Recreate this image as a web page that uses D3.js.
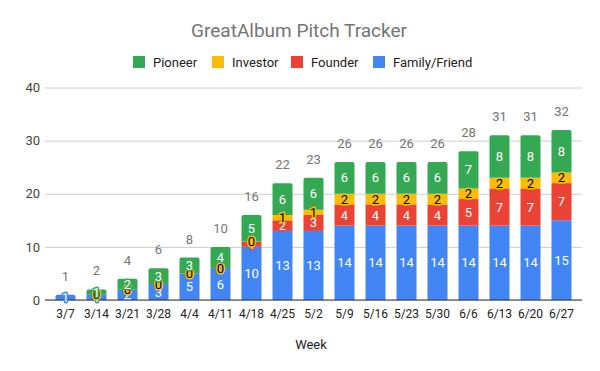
<!DOCTYPE html>
<html>
<head>
<meta charset="utf-8">
<script src="https://cdn.jsdelivr.net/npm/d3@7"></script>
<style>
  body { margin: 0; background: #fff; }
  svg { display: block; font-family: Roboto, Arial, sans-serif; }
</style>
</head>
<body>
<svg id="chart" width="600" height="371"></svg>
<script>
const weeks = ["3/7","3/14","3/21","3/28","4/4","4/11","4/18","4/25","5/2","5/9","5/16","5/23","5/30","6/6","6/13","6/20","6/27"];
const familyFriend = [1,1,2,3,5,6,10,13,13,14,14,14,14,14,14,14,15];
const founder      = [null,null,null,null,null,null,1,2,3,4,4,4,4,5,7,7,7];
const investor     = [null,0,0,0,0,0,0,1,1,2,2,2,2,2,2,2,2];
const pioneer      = [null,1,2,3,3,4,5,6,6,6,6,6,6,7,8,8,8];
const yTicks = [0,10,20,30,40];
const seriesNames = ["Family/Friend","Founder","Investor","Pioneer"];
const legendOrder = ["Pioneer","Investor","Founder","Family/Friend"];
const colors = {"Family/Friend":"#4285F4","Founder":"#EA4335","Investor":"#FBBC04","Pioneer":"#34A853"};
const labelFill = {"Family/Friend":"#fff","Founder":"#fff","Investor":"#000","Pioneer":"#fff"};
const seriesData = {"Family/Friend":familyFriend,"Founder":founder,"Investor":investor,"Pioneer":pioneer};

const svg = d3.select("#chart");
const x = d3.scaleBand().domain(weeks).range([50, 577]).paddingInner(0.355).paddingOuter(0.1775);
const y = d3.scaleLinear().domain([0, 40]).range([300, 87.5]);

// Title
svg.append("text").attr("x", 299).attr("y", 37).attr("text-anchor", "middle")
  .attr("font-size", 19).attr("fill", "#757575").text("GreatAlbum Pitch Tracker");

// Legend
const legendX = {"Pioneer":133,"Investor":212,"Founder":291,"Family/Friend":373};
legendOrder.forEach(name => {
  const g = svg.append("g").attr("transform", `translate(${legendX[name]},56)`);
  g.append("rect").attr("width", 12).attr("height", 12).attr("fill", colors[name]);
  g.append("text").attr("x", 20).attr("y", 10.5).attr("font-size", 13).attr("fill", "#222").text(name);
});

// Gridlines + y axis
const yAxis = d3.axisLeft(y).tickValues(yTicks).tickSize(-(582 - 45)).tickPadding(5);
const yg = svg.append("g").attr("transform", "translate(45,0)").call(yAxis);
yg.select(".domain").remove();
yg.selectAll(".tick line").attr("stroke", "#ccc");
yg.selectAll(".tick text").attr("font-size", 13).attr("fill", "#444").attr("font-family", "Roboto, Arial, sans-serif");

// Stacks
const stacks = weeks.map((w, i) => {
  let base = 0;
  const segs = seriesNames.map(name => {
    const v = seriesData[name][i];
    const s = {name, v, y0: base, y1: base + (v || 0), week: w};
    base += (v || 0);
    return s;
  });
  return {week: w, segs, total: base};
});

const barsG = svg.append("g");
stacks.forEach(st => {
  const nonzero = st.segs.filter(s => s.v);
  const top = nonzero[nonzero.length - 1];
  nonzero.forEach(s => {
    const x0 = x(s.week), bw = x.bandwidth();
    const yt = y(s.y1), yb = y(s.y0);
    if (s === top) {
      const r = 2;
      barsG.append("path").attr("fill", colors[s.name])
        .attr("d", `M${x0},${yb}V${yt + r}Q${x0},${yt} ${x0 + r},${yt}H${x0 + bw - r}Q${x0 + bw},${yt} ${x0 + bw},${yt + r}V${yb}Z`);
    } else {
      barsG.append("rect").attr("fill", colors[s.name])
        .attr("x", x0).attr("y", yt).attr("width", bw).attr("height", yb - yt);
    }
  });
});

// Axis baseline
svg.append("line").attr("x1", 45).attr("x2", 582).attr("y1", 300).attr("y2", 300).attr("stroke", "#333").attr("stroke-width", 1);

// X axis labels
const xAxis = d3.axisBottom(x).tickSize(0).tickPadding(9);
const xg = svg.append("g").attr("transform", "translate(0,300)").call(xAxis);
xg.select(".domain").remove();
xg.selectAll(".tick text").attr("font-size", 12).attr("fill", "#222").attr("font-family", "Roboto, Arial, sans-serif");

// Segment labels
const labelsG = svg.append("g").attr("font-size", 13).attr("text-anchor", "middle");
seriesNames.forEach(name => {
  stacks.forEach(st => {
    const s = st.segs.find(d => d.name === name);
    if (s.v === null) return;
    labelsG.append("text")
      .attr("x", x(s.week) + x.bandwidth() / 2)
      .attr("y", (y(s.y0) + y(s.y1)) / 2 + 4.5)
      .attr("fill", labelFill[name])
      .attr("stroke", colors[name]).attr("stroke-width", 3).attr("stroke-linejoin", "round")
      .attr("paint-order", "stroke")
      .text(s.v);
  });
});

// Totals
svg.append("g").selectAll("text").data(stacks).join("text")
  .attr("x", d => x(d.week) + x.bandwidth() / 2)
  .attr("y", d => y(d.total) - 14)
  .attr("text-anchor", "middle").attr("font-size", 13).attr("fill", "#757575")
  .text(d => d.total);

// X axis title
svg.append("text").attr("x", 311).attr("y", 349).attr("text-anchor", "middle")
  .attr("font-size", 13).attr("fill", "#222").text("Week");
</script>
</body>
</html>
